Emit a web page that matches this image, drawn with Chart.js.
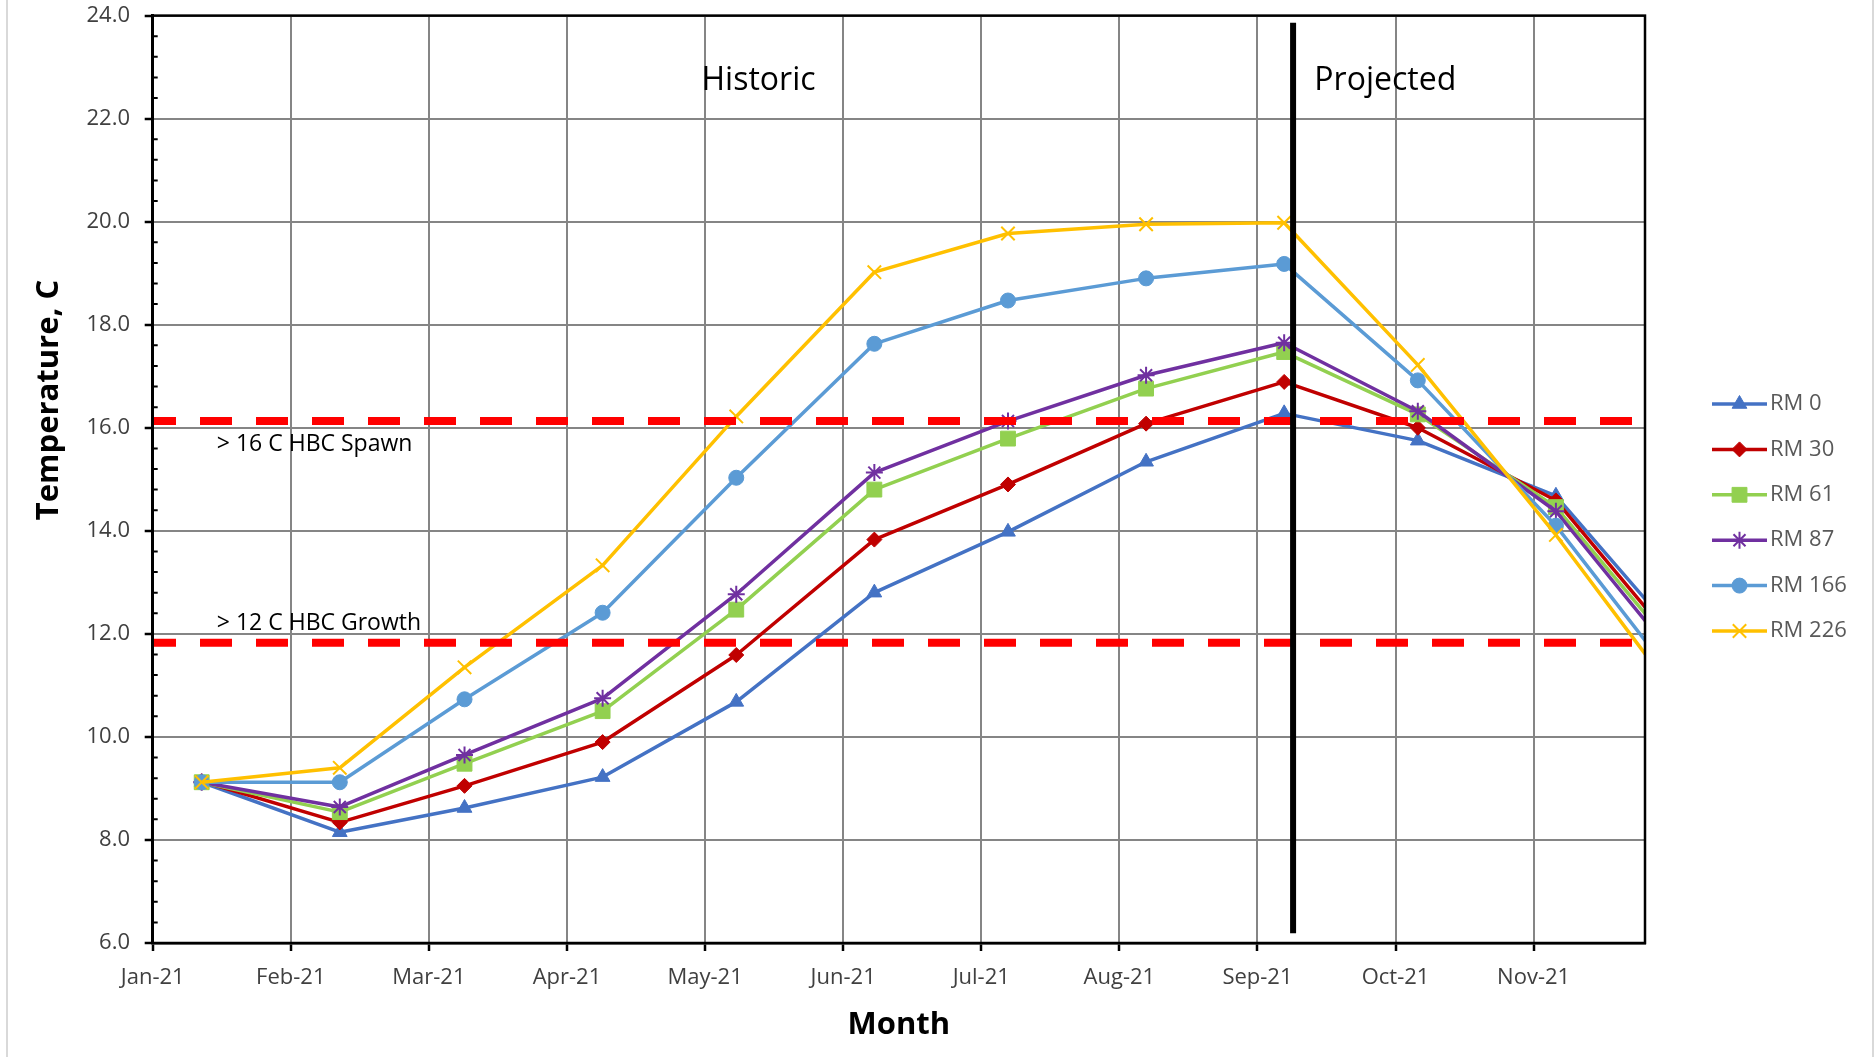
<!DOCTYPE html>
<html>
<head>
<meta charset="utf-8">
<script src="https://cdn.jsdelivr.net/npm/chart.js@4.4.1/dist/chart.umd.min.js"></script>
<style>
  html, body { margin: 0; padding: 0; background: #ffffff; }
  #wrap { width: 1876px; height: 1057px; position: relative; }
</style>
</head>
<body>
<div id="wrap"><canvas id="chart" width="1876" height="1057"></canvas></div>
<script>
// ---------------- DATA ----------------
const axisStart = '2021-01-01';
const axisEnd = '2021-12-02';
const sampleDates = ['2021-01-12','2021-02-12','2021-03-12','2021-04-12','2021-05-12','2021-06-12',
                     '2021-07-12','2021-08-12','2021-09-12','2021-10-12','2021-11-12','2021-12-12'];
const tickDates = ['2021-01-01','2021-02-01','2021-03-04','2021-04-04','2021-05-05','2021-06-05',
                   '2021-07-06','2021-08-06','2021-09-06','2021-10-07','2021-11-07'];
const tickLabels = ['Jan-21','Feb-21','Mar-21','Apr-21','May-21','Jun-21','Jul-21','Aug-21','Sep-21','Oct-21','Nov-21'];
const yTicks = [6, 8, 10, 12, 14, 16, 18, 20, 22, 24];

const seriesNames = ['RM 0', 'RM 30', 'RM 61', 'RM 87', 'RM 166', 'RM 226'];
const rm0   = [9.12, 8.15, 8.62,  9.22, 10.68, 12.80, 13.98, 15.34, 16.28, 15.75, 14.68, 11.68];
const rm30  = [9.14, 8.34, 9.05,  9.90, 11.59, 13.83, 14.90, 16.08, 16.89, 16.00, 14.59, 11.49];
const rm61  = [9.12, 8.54, 9.48, 10.50, 12.47, 14.80, 15.79, 16.76, 17.47, 16.26, 14.46, 11.36];
const rm87  = [9.12, 8.64, 9.65, 10.75, 12.77, 15.13, 16.13, 17.02, 17.65, 16.32, 14.38, 11.20];
const rm166 = [9.12, 9.12, 10.73, 12.41, 15.03, 17.63, 18.47, 18.90, 19.18, 16.92, 14.10, 10.76];
const rm226 = [9.12, 9.40, 11.35, 13.33, 16.22, 19.02, 19.77, 19.95, 19.98, 17.22, 13.92, 10.46];
const seriesValues = [rm0, rm30, rm61, rm87, rm166, rm226];

const spawnThreshold = 16.13;
const growthThreshold = 11.83;
const dividerDate = '2021-09-14';
const dividerRange = [6.19, 23.86];

const spawnLabel = '> 16 C HBC Spawn';
const growthLabel = '> 12 C HBC Growth';
const historicLabel = 'Historic';
const projectedLabel = 'Projected';
const xTitle = 'Month';
const yTitle = 'Temperature, C';

// ---------------- HELPERS / STYLES ----------------
const dayOf = s => Math.round((Date.parse(s) - Date.parse(axisStart)) / 86400000);
const xMax = dayOf(axisEnd);
const pointDays = sampleDates.map(dayOf);
const tickDays = tickDates.map(dayOf);

const seriesStyles = [
  { color: '#4472C4', point: 'triangle', radius: 8.5, pointBorder: 1 },
  { color: '#C00000', point: 'rectRot',  radius: 7.5, pointBorder: 1 },
  { color: '#92D050', point: 'rect',     radius: 10.5, pointBorder: 1 },
  { color: '#7030A0', point: 'star',     radius: 8.5, pointBorder: 2 },
  { color: '#5B9BD5', point: 'circle',   radius: 7.5, pointBorder: 1 },
  { color: '#FFC000', point: 'crossRot', radius: 9.5, pointBorder: 2 }
];

Chart.defaults.font.family = "'Open Sans', sans-serif";

const datasets = seriesNames.map((name, i) => ({
  label: name,
  data: pointDays.map((d, k) => ({ x: d, y: seriesValues[i][k] })),
  borderColor: seriesStyles[i].color,
  backgroundColor: seriesStyles[i].color,
  borderWidth: 3.5,
  borderJoinStyle: 'round',
  pointStyle: seriesStyles[i].point,
  pointRadius: seriesStyles[i].radius,
  pointBorderWidth: seriesStyles[i].pointBorder,
  pointBackgroundColor: seriesStyles[i].color,
  pointBorderColor: seriesStyles[i].color,
  tension: 0,
  order: 8 - i
}));

[spawnThreshold, growthThreshold].forEach((v, i) => {
  datasets.push({
    label: i === 0 ? spawnLabel : growthLabel,
    data: [{ x: 0, y: v }, { x: xMax, y: v }],
    borderColor: '#FF0000',
    borderWidth: 8,
    borderDash: [32, 24],
    borderDashOffset: 8.7,
    borderCapStyle: 'butt',
    pointRadius: 0,
    order: 2
  });
});

datasets.push({
  label: 'divider',
  data: [{ x: dayOf(dividerDate), y: dividerRange[0] }, { x: dayOf(dividerDate), y: dividerRange[1] }],
  borderColor: '#000000',
  borderWidth: 6,
  pointRadius: 0,
  order: 1
});

// ---------------- PLUGINS ----------------
const framePlugin = {
  id: 'frame',
  beforeDraw(chart) {
    const ctx = chart.ctx;
    ctx.save();
    ctx.fillStyle = '#ffffff';
    ctx.fillRect(0, 0, chart.width, chart.height);
    ctx.strokeStyle = '#D9D9D9';
    ctx.lineWidth = 2;
    ctx.beginPath();
    ctx.moveTo(7, 0); ctx.lineTo(7, chart.height);
    ctx.moveTo(1873, 0); ctx.lineTo(1873, chart.height);
    ctx.stroke();
    ctx.restore();
  },
  afterDatasetsDraw(chart) {
    const ctx = chart.ctx;
    const a = chart.chartArea;
    const ys = chart.scales.y;
    ctx.save();
    // minor ticks (inside)
    ctx.strokeStyle = '#000000';
    ctx.lineWidth = 2;
    ctx.beginPath();
    for (let i = 1; i < 45; i++) {
      if (i % 5 === 0) continue;
      const py = ys.getPixelForValue(6 + 0.4 * i);
      ctx.moveTo(a.left, py);
      ctx.lineTo(a.left + 5, py);
    }
    ctx.stroke();
    // plot border
    ctx.lineWidth = 2.5;
    ctx.strokeRect(a.left, a.top, a.right - a.left, a.bottom - a.top);
    ctx.restore();
  }
};

const notesPlugin = {
  id: 'notes',
  afterDraw(chart) {
    const ctx = chart.ctx;
    const xs = chart.scales.x, ys = chart.scales.y;
    ctx.save();
    ctx.fillStyle = '#000000';
    ctx.textBaseline = 'alphabetic';
    ctx.font = "32px 'Open Sans'";
    ctx.textAlign = 'center';
    ctx.fillText(historicLabel, xs.getPixelForValue(136), ys.getPixelForValue(22.55));
    ctx.fillText(projectedLabel, xs.getPixelForValue(276.7), ys.getPixelForValue(22.55));
    ctx.font = "23px 'Open Sans'";
    ctx.textAlign = 'left';
    ctx.fillText(spawnLabel, xs.getPixelForValue(14.4), ys.getPixelForValue(15.55));
    ctx.fillText(growthLabel, xs.getPixelForValue(14.4), ys.getPixelForValue(12.07));
    // y axis title (rotated)
    ctx.font = "bold 31px 'Open Sans'";
    ctx.textAlign = 'center';
    ctx.textBaseline = 'middle';
    ctx.translate(49.5, 400);
    ctx.rotate(-Math.PI / 2);
    ctx.fillText(yTitle, 0, 0);
    ctx.restore();

    // legend
    ctx.save();
    const lineStart = 1712, lineEnd = 1767, textX = 1770, top = 404, step = 45.4;
    seriesNames.forEach((name, i) => {
      const st = seriesStyles[i];
      const y = top + i * step;
      ctx.strokeStyle = st.color;
      ctx.lineWidth = 3.5;
      ctx.lineCap = 'butt';
      ctx.beginPath();
      ctx.moveTo(lineStart, y);
      ctx.lineTo(lineEnd, y);
      ctx.stroke();
      ctx.fillStyle = st.color;
      ctx.lineWidth = st.pointBorder;
      Chart.helpers.drawPoint(ctx, { pointStyle: st.point, radius: st.radius, borderWidth: st.pointBorder, rotation: 0 },
        (lineStart + lineEnd) / 2, y);
      ctx.fillStyle = '#595959';
      ctx.font = "22px 'Open Sans'";
      ctx.textAlign = 'left';
      ctx.textBaseline = 'middle';
      ctx.fillText(name, textX, y);
    });
    ctx.restore();
  }
};

// ---------------- CHART ----------------
new Chart(document.getElementById('chart'), {
  type: 'line',
  data: { datasets },
  options: {
    responsive: false,
    devicePixelRatio: 1,
    animation: false,
    events: [],
    layout: { padding: { left: 0, top: 15.6, right: 231, bottom: 0 } },
    plugins: { legend: { display: false }, tooltip: { enabled: false } },
    scales: {
      x: {
        type: 'linear',
        min: 0,
        max: xMax,
        afterBuildTicks: s => { s.ticks = tickDays.map(v => ({ value: v })); },
        afterFit: s => { s.height = 114; s.paddingLeft = 0; s.paddingRight = 0; },
        ticks: {
          autoSkip: false,
          maxRotation: 0,
          padding: 14,
          color: '#404040',
          font: { size: 22 },
          callback: (v, i) => tickLabels[i]
        },
        grid: { color: '#858585', lineWidth: 2, tickLength: 8, tickColor: '#000000', tickWidth: 2.5 },
        border: { color: '#000000', width: 2.5 },
        title: {
          display: true,
          text: xTitle,
          color: '#000000',
          font: { size: 31, weight: 'bold' },
          padding: { top: 0, bottom: 13.5 }
        }
      },
      y: {
        type: 'linear',
        min: 6,
        max: 24,
        afterBuildTicks: s => { s.ticks = yTicks.map(v => ({ value: v })); },
        afterFit: s => { s.width = 152.7; s.paddingTop = 0; s.paddingBottom = 0; },
        ticks: {
          padding: 14.7,
          color: '#404040',
          font: { size: 22 },
          callback: v => Number(v).toFixed(1)
        },
        grid: { color: '#858585', lineWidth: 2, tickLength: 8, tickColor: '#000000', tickWidth: 2.5 },
        border: { color: '#000000', width: 3 }
      }
    }
  },
  plugins: [framePlugin, notesPlugin]
});
</script>
</body>
</html>
